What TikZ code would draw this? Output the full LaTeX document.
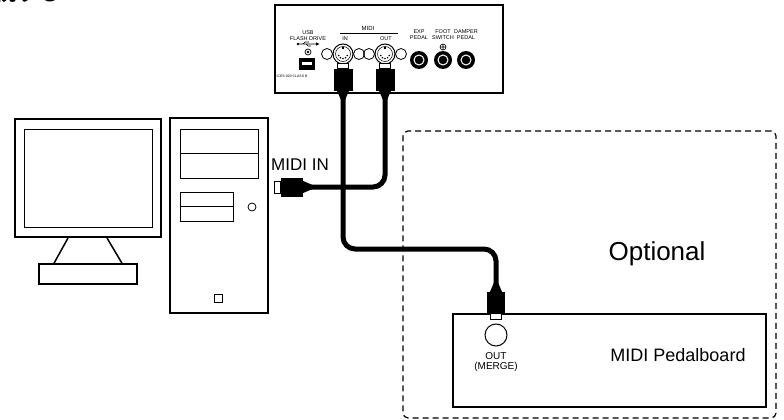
\documentclass[tikz,border=0pt]{standalone}
\usepackage{fontspec}
\setmainfont{Liberation Sans}
\newfontfamily\jpfont{Noto Sans CJK JP}
\usetikzlibrary{positioning}
\tikzset{
  box/.style={draw, line width=1.5pt, inner sep=0pt},
  thinbox/.style={draw, line width=1pt, inner sep=0pt},
  optbox/.style={draw, dash pattern=on 6pt off 4pt, line width=1.2pt, rounded corners=5pt, inner sep=0pt},
  cable/.style={line width=5pt, rounded corners=12pt},
  plug/.style={fill=black, inner sep=0pt, minimum width=19pt, minimum height=21pt},
  tip/.style={draw, fill=white, line width=0.8pt, inner sep=0pt},
  din/.style={circle, draw, line width=1pt, minimum size=20pt, inner sep=0pt},
  jack/.style={circle, fill=black, minimum size=18pt, inner sep=0pt,
    path picture={\draw[white, line width=1pt] (path picture bounding box.center) circle (5pt);}},
  lbl/.style={font=\fontsize{5.5}{6}\selectfont, align=center, inner sep=0pt},
}

\begin{document}
\begin{tikzpicture}[x=1pt, y=-1pt]
\useasboundingbox (0,0) rectangle (784,420);

% heading, only its lower edge is on the page
\node[anchor=base west, inner sep=0pt, font=\jpfont\bfseries\fontsize{22}{22}\selectfont] (title) at (-6,0.5) {続する};

% optional area
\node[optbox, minimum width=373pt, minimum height=287pt] (optional) at (589.5,274.5) {};
\node[font=\fontsize{26}{26}\selectfont, inner sep=0pt] (opttext) at (657,254) {Optional};

% computer
\node[box, line width=2pt, minimum width=146pt, minimum height=118pt] (monitor) at (88,178) {};
\node[thinbox, minimum width=128pt, minimum height=98pt] (screen) at (88,178) {};
\node[box, minimum width=98pt, minimum height=20pt] (base) at (88,274) {};
\draw[line width=1.5pt] ([xshift=-20pt]monitor.south) -- ([xshift=-34pt]base.north)
  ([xshift=19pt]monitor.south) -- ([xshift=34pt]base.north);
\node[box, minimum width=98pt, minimum height=195pt] (tower) at (219,215.5) {};
\node[thinbox, minimum width=78pt, minimum height=49pt] (bay) at (219,153.5) {};
\draw[line width=1pt] (bay.west) -- (bay.east);
\node[thinbox, minimum width=53pt, minimum height=29pt] (drive) at (206.5,206.5) {};
\draw[line width=1.5pt] (drive.west) -- (drive.east);
\node[circle, draw, line width=0.8pt, minimum size=8pt, inner sep=0pt] (power) at (252,207) {};
\node[draw, line width=0.8pt, minimum size=8pt, inner sep=0pt] (led) at (218,298) {};

% keyboard rear panel
\node[box, minimum width=228pt, minimum height=88pt] (panel) at (389,49) {};
\node[lbl] (usblabel) at (308,36) {USB\\FLASH DRIVE};
\draw[line width=0.7pt] (299,44) -- (316,44) (303,44) -- (305,42) -- (309,42) (306,44) -- (308,46) -- (311,46);
\fill (298,44) circle (1.3) (316,42.3) -- (319.5,44) -- (316,45.7) -- cycle;
\draw[line width=0.7pt] (308,52) circle (3);
\fill (308,52) circle (1.3);
\node[fill=black, minimum width=16pt, minimum height=12pt, inner sep=0pt] (usb) at (307,64) {};
\fill[white] (302,62) rectangle (312,65.5);
\node[lbl, font=\fontsize{3.5}{4}\selectfont] (ices) at (292,76) {ICES-003 CLASS B};

\node[lbl, font=\fontsize{6}{6}\selectfont] (midilabel) at (368,28) {MIDI};
\draw[line width=0.8pt] (340,33) -- (398,33);
\node[lbl] (inlabel) at (345,38.5) {IN};
\node[lbl] (outlabel) at (386,38.5) {OUT};
\node[din] (inport) at (343,54) {};
\node[din] (outport) at (385,54) {};
\foreach \p in {inport, outport} {
  \draw[line width=0.5pt] (\p) circle (7.5);
  \foreach \a in {20,55,90,125,160}
    \fill (\p) ++(\a:4.5) circle (0.9);
  \fill (\p) ++(-1,-7) rectangle ++(2,2.5);
  \draw[line width=0.8pt] (\p) ++(-16,0) circle (5.5);
  \draw[line width=0.8pt] (\p) ++(16,0) circle (5.5);
}

\foreach \x/\n/\t in {419/exp/EXP\\PEDAL, 443/foot/FOOT\\SWITCH, 466/damper/DAMPER\\PEDAL} {
  \node[jack] (\n) at (\x,60) {};
  \node[lbl] at (\x,35) {\t};
}
\draw[line width=0.6pt] (443,47) circle (3) (440,47) -- (446,47) (443,44) -- (443,50);

% plugs
\node[plug] (inplug) at (343,80) {};
\node[tip, minimum width=11pt, minimum height=5pt, above=0pt of inplug] (intip) {};
\node[plug] (outplug) at (385,80) {};
\node[tip, minimum width=11pt, minimum height=5pt, above=0pt of outplug] (outtip) {};
\node[plug, minimum width=22pt, minimum height=19pt] (pcplug) at (292,187) {};
\node[tip, minimum width=6pt, minimum height=12pt, left=0pt of pcplug] (pctip) {};
\node[font=\fontsize{17}{17}\selectfont, inner sep=0pt, anchor=base] (midiin) at (300,170) {MIDI IN};

% pedalboard
\node[box, line width=2pt, minimum width=313pt, minimum height=93pt] (pedalboard) at (609.5,360.5) {};
\node[circle, draw, line width=1pt, minimum size=22pt, inner sep=0pt] (mergeport) at (496,335) {};
\node[font=\fontsize{10}{10}\selectfont, align=center, inner sep=0pt, below=6pt of mergeport] (mergetext) {OUT\\(MERGE)};
\node[font=\fontsize{18}{18}\selectfont, inner sep=0pt] (pbtext) at (678,355) {MIDI Pedalboard};
\node[plug, minimum width=18pt, minimum height=21pt] (pedplug) at (496,302.5) {};
\node[tip, minimum width=11pt, minimum height=6pt, below=0pt of pedplug] (pedtip) {};

% cables
\coordinate (run) at (420,249);
\draw[cable] (inplug.south) |- (run) -| (pedplug.north);
\draw[cable] (outplug.south) |- (pcplug.east);
\foreach \p in {inplug, outplug}
  \fill ([xshift=-6pt]\p.south) -- ([xshift=6pt]\p.south) -- ([yshift=-14pt]\p.south) -- cycle;
\fill ([xshift=-6pt]pedplug.north) -- ([xshift=6pt]pedplug.north) -- ([yshift=14pt]pedplug.north) -- cycle;
\fill ([yshift=6pt]pcplug.east) -- ([yshift=-6pt]pcplug.east) -- ([xshift=14pt]pcplug.east) -- cycle;
\end{tikzpicture}
\end{document}
